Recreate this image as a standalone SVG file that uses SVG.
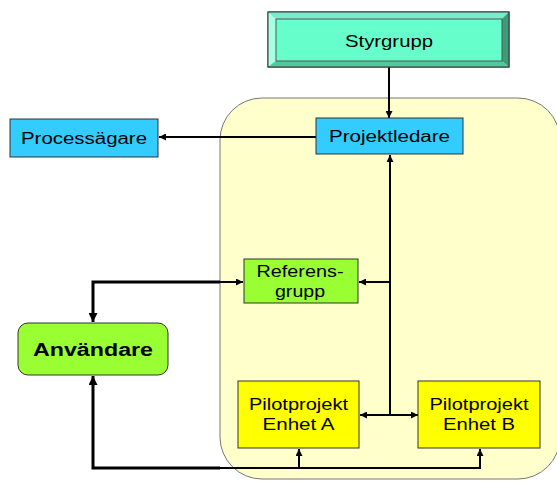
<svg xmlns="http://www.w3.org/2000/svg" width="557" height="481" viewBox="0 0 557 481">
<defs>
<marker id="ah" viewBox="0 0 10 10" refX="10" refY="5" markerWidth="7" markerHeight="7" markerUnits="userSpaceOnUse" orient="auto-start-reverse">
<path d="M0,0 L10,5 L0,10 z" fill="#000"/>
</marker>
<marker id="ahb" viewBox="0 0 10 10" refX="10" refY="5" markerWidth="9" markerHeight="9" markerUnits="userSpaceOnUse" orient="auto-start-reverse">
<path d="M0,0 L10,5 L0,10 z" fill="#000"/>
</marker>
</defs>
<style>
text{font-family:"Liberation Sans",Arial,sans-serif;fill:#000;}
.lbl{font-size:16px;}
.big{font-size:18px;font-weight:bold;}
.box{stroke:#333;stroke-width:1;}
.cn{fill:none;stroke:#000;stroke-width:2;}
.cnb{fill:none;stroke:#000;stroke-width:3;}
</style>
<rect width="557" height="481" fill="#fff"/>
<g id="container">
<rect x="220" y="98" width="340" height="381" rx="42" ry="42" fill="#ffffcc" stroke="#777" stroke-width="1"/>
</g>
<g id="connectors">
<path class="cn" d="M389,67 V118" marker-end="url(#ah)"/>
<path class="cn" d="M316,137 H159" marker-end="url(#ah)"/>
<path class="cn" d="M390,415 V155" marker-end="url(#ah)"/>
<path class="cn" d="M390,282 H359" marker-end="url(#ah)"/>
<path class="cn" d="M360,415 H418" marker-start="url(#ah)" marker-end="url(#ah)"/>
<path class="cnb" d="M93,316 V282 H220"/>
<path class="cnb" d="M93,314 V322" marker-end="url(#ahb)"/>
<path class="cn" d="M219,282 H243" marker-end="url(#ah)"/>
<path class="cnb" d="M93,382 V468 H220"/>
<path class="cnb" d="M93,384 V376" marker-end="url(#ahb)"/>
<path class="cn" d="M219,468 H480 V449" marker-end="url(#ah)"/>
<path class="cn" d="M299,468 V449" marker-end="url(#ah)"/>
</g>
<g id="styrgrupp">
<rect x="268" y="12" width="241" height="55" fill="#66ffcc" stroke="#333" stroke-width="1"/>
<polygon points="268,12 509,12 502,19 276,19" fill="#7aeccb"/>
<polygon points="268,12 276,19 276,61 268,67" fill="#a8ffe4"/>
<polygon points="509,12 509,67 502,61 502,19" fill="#3f9a78"/>
<polygon points="268,67 509,67 502,61 276,61" fill="#52c89c"/>
<rect x="276" y="19" width="226" height="42" fill="#66ffcc" stroke="#555" stroke-width="1"/>
<rect x="268" y="12" width="241" height="55" fill="none" stroke="#333" stroke-width="1"/>
<text class="lbl" x="389" y="47" text-anchor="middle" textLength="88" lengthAdjust="spacingAndGlyphs" style="font-size:17px">Styrgrupp</text>
</g>
<g id="projektledare">
<rect class="box" x="316" y="118" width="147" height="36" fill="#33ccff"/>
<text class="lbl" x="389.5" y="142" text-anchor="middle" textLength="121" lengthAdjust="spacingAndGlyphs">Projektledare</text>
</g>
<g id="processagare">
<rect class="box" x="10" y="119" width="148" height="38" fill="#33ccff"/>
<text class="lbl" x="84" y="144" text-anchor="middle" textLength="126" lengthAdjust="spacingAndGlyphs">Processägare</text>
</g>
<g id="referensgrupp">
<rect class="box" x="244" y="259" width="114" height="44" fill="#99ff33"/>
<text class="lbl" x="300" y="277" text-anchor="middle" textLength="87" lengthAdjust="spacingAndGlyphs">Referens-</text>
<text class="lbl" x="300" y="297" text-anchor="middle" textLength="50" lengthAdjust="spacingAndGlyphs">grupp</text>
</g>
<g id="anvandare">
<rect class="box" x="18" y="323" width="150" height="52" rx="10" ry="10" fill="#99ff33"/>
<text class="big" x="93" y="356" text-anchor="middle" textLength="120" lengthAdjust="spacingAndGlyphs">Användare</text>
</g>
<g id="pilotA">
<rect class="box" x="238" y="381" width="121" height="67" fill="#ffff00"/>
<text class="lbl" x="298.5" y="410" text-anchor="middle" textLength="99" lengthAdjust="spacingAndGlyphs">Pilotprojekt</text>
<text class="lbl" x="298.5" y="430" text-anchor="middle" textLength="72" lengthAdjust="spacingAndGlyphs">Enhet A</text>
</g>
<g id="pilotB">
<rect class="box" x="418" y="381" width="122" height="67" fill="#ffff00"/>
<text class="lbl" x="479" y="410" text-anchor="middle" textLength="99" lengthAdjust="spacingAndGlyphs">Pilotprojekt</text>
<text class="lbl" x="479" y="430" text-anchor="middle" textLength="72" lengthAdjust="spacingAndGlyphs">Enhet B</text>
</g>
</svg>
